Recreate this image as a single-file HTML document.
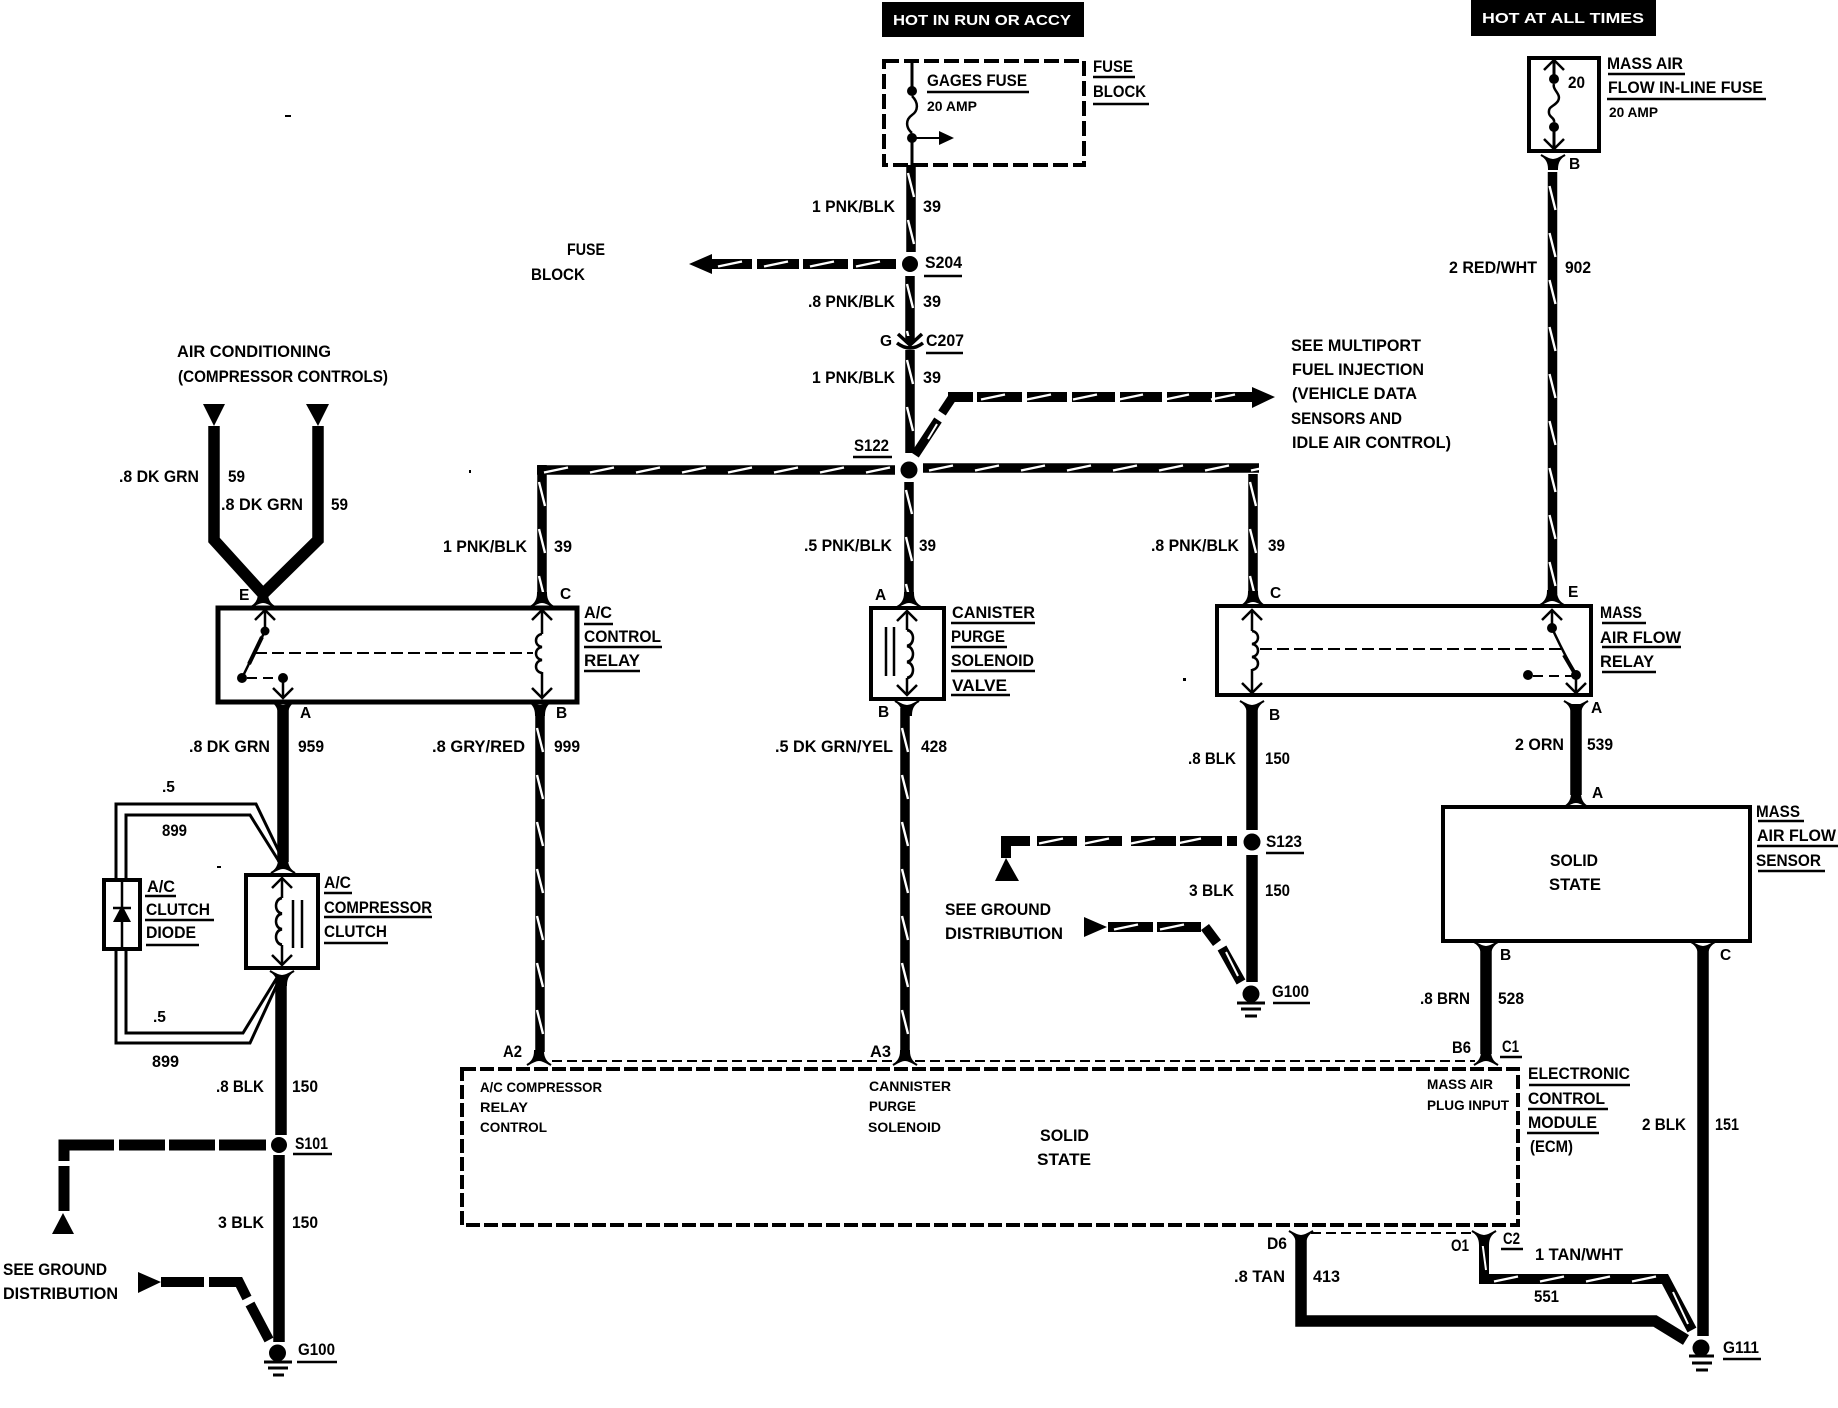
<!DOCTYPE html>
<html><head><meta charset="utf-8"><title>Wiring diagram</title>
<style>
html,body{margin:0;padding:0;background:#fff}
svg{display:block}
text{font:bold 17px "Liberation Sans",sans-serif;fill:#000}
text.s{font-size:14px}
text.l{font-size:15.5px}
.w text{fill:#fff;font-size:15px}
.k{fill:none;stroke:#000}
</style></head><body>
<svg width="1838" height="1408" viewBox="0 0 1838 1408" xmlns="http://www.w3.org/2000/svg">
<defs>
<pattern id="v" patternUnits="userSpaceOnUse" x="-7" y="0" width="14" height="47"><path d="M-3,8L3,32" transform="translate(7,0)" stroke="#fff" stroke-width="2.4" fill="none"/></pattern>
<pattern id="h" patternUnits="userSpaceOnUse" x="0" y="-7" width="46" height="14"><path d="M6,9.5L30,4.5" stroke="#fff" stroke-width="2.4" fill="none"/></pattern>
<path id="fd" d="M-12,7Q-4,3 -4,-7H4Q4,3 12,7Q4,2 0,2Q-4,2 -12,7Z" fill="#000" stroke="#000" stroke-width="2"/>
<path id="fu" d="M-12,-7Q-4,-3 -4,7H4Q4,-3 12,-7Q4,-2 0,-2Q-4,-2 -12,-7Z" fill="#000" stroke="#000" stroke-width="2"/>
<path id="au" d="M-10,10L0,0L10,10" fill="none" stroke="#000" stroke-width="2.5"/>
<path id="ad" d="M-10,-10L0,0L10,-10" fill="none" stroke="#000" stroke-width="2.5"/>
<path id="cr" d="M0,0c8,1 8,12 0,13c8,1 8,12 0,13c8,1 8,12 0,13" fill="none" stroke="#000" stroke-width="2.5"/>
<path id="cl" d="M0,0c-8,1 -8,12 0,13c-8,1 -8,12 0,13c-8,1 -8,12 0,13" fill="none" stroke="#000" stroke-width="2.5"/>
</defs>
<rect width="1838" height="1408" fill="#fff"/>

<!-- header boxes -->
<g class="w">
<rect x="882" y="2" width="202" height="35" fill="#000"/>
<rect x="1471" y="0" width="185" height="36" fill="#000"/>
<text x="893" y="25" textLength="178" lengthAdjust="spacingAndGlyphs">HOT IN RUN OR ACCY</text>
<text x="1482" y="23" textLength="162" lengthAdjust="spacingAndGlyphs">HOT AT ALL TIMES</text>
</g>

<!-- boxes -->
<g class="k" stroke-width="4">
<rect x="884" y="61" width="200" height="104" stroke-dasharray="15 5"/>
<rect x="1529" y="58" width="70" height="93"/>
<rect x="218" y="608" width="359" height="94" stroke-width="5"/>
<rect x="871" y="608" width="73" height="91"/>
<rect x="1217" y="606" width="374" height="89"/>
<rect x="1443" y="807" width="307" height="134"/>
<rect x="246" y="875" width="72" height="93"/>
<rect x="104" y="880" width="36" height="69"/>
<rect x="462" y="1069" width="1056" height="156" stroke-dasharray="14 4"/>
</g>
<path class="k" stroke-width="2" stroke-dasharray="10 5" d="M552,1061H895M915,1061H1475M1311,1233H1474"/>

<!-- solid thick wires -->
<g class="k" stroke-width="9.5">
<path d="M911,165V252M910,276V343M910,350V453M909,482V596"/>
<path d="M1552.5,172V594M1253,474V594M542,465V596"/>
<path d="M537,470H895M923,468H1259"/>
<path d="M540,708V1052M905,708V1052"/>
<path d="M915,455L938,420M942,413L952,398" stroke-width="9"/>
<path d="M948,397H973M977,397H1022M1027,397H1067M1072,397H1115M1120,397H1162M1167,397H1212M1215,397H1253" stroke-width="10"/>
<path d="M896,264H853M848,264H803M799,264H757M752,264H712" stroke-width="10"/>
<path d="M1237,841H1227M1222,841H1180M1176,841H1131M1122,841H1085M1077,841H1037M1030,841H1006V858" stroke-width="10"/>
<path d="M1108,927H1153M1157,927H1201M1205,927L1217,943M1222,948L1241,982" stroke-width="10"/>
<path d="M1484,1236V1279H1665L1692,1330" stroke-width="10"/>
</g>
<g class="k" stroke-width="11.5">
<path d="M214,426V540L263,594M318,426V540L263,594"/>
<path d="M283,708V862M281,978V1135M279,1155V1342"/>
<path d="M1252,706V830M1252,855V982M1576,704V795"/>
<path d="M1486,950V1054M1703,950V1336"/>
<path d="M1301,1236V1321H1655L1686,1340"/>
<path d="M266,1145H219M215,1145H169M165,1145H119M114,1145H64V1161M64,1166V1211" stroke-width="11"/>
<path d="M161,1282H204M209,1282H239L247,1298M250,1304L269,1340" stroke-width="10"/>
</g>

<!-- stripes -->
<g>
<rect transform="translate(911,165)" x="-5" width="10" height="87" fill="url(#v)"/>
<rect transform="translate(910,276)" x="-5" width="10" height="60" fill="url(#v)"/>
<rect transform="translate(910,352)" x="-5" width="10" height="100" fill="url(#v)"/>
<rect transform="translate(909,482)" x="-5" width="10" height="112" fill="url(#v)"/>
<rect transform="translate(1552.5,178)" x="-5" width="10" height="416" fill="url(#v)"/>
<rect transform="translate(1253,474)" x="-5" width="10" height="120" fill="url(#v)"/>
<rect transform="translate(542,474)" x="-5" width="10" height="120" fill="url(#v)"/>
<rect transform="translate(540,720)" x="-5" width="10" height="330" fill="url(#v)"/>
<rect transform="translate(905,720)" x="-5" width="10" height="330" fill="url(#v)"/>
<rect transform="translate(538,470)" y="-5" width="357" height="10" fill="url(#h)"/>
<rect transform="translate(923,468)" y="-5" width="336" height="10" fill="url(#h)"/>
<rect transform="translate(975,397)" y="-5" width="278" height="10" fill="url(#h)"/>
<rect transform="translate(712,264)" y="-5" width="184" height="10" fill="url(#h)"/>
<rect transform="translate(1033,841)" y="-5" width="190" height="10" fill="url(#h)"/>
<rect transform="translate(1108,927)" y="-5" width="92" height="10" fill="url(#h)"/>
<rect transform="translate(1488,1279)" y="-5" width="172" height="10" fill="url(#h)"/>
<path d="M928,439L937,424M1226,952L1238,976M1673,1292L1688,1324M1482,1240L1486,1270" stroke="#fff" stroke-width="2" fill="none"/>
</g>

<!-- arrowheads -->
<path d="M689,264L712,254V274Z M1275,397L1252,387V408Z M203,404H225L214,426Z M306,404H329L318,426Z M1006,858L995,881H1019Z M63,1213L52,1234H74Z M138,1272L161,1282L138,1293Z M1084,917L1107,927L1084,937Z M954,138L939,131V145Z"/>

<!-- splice dots and grounds -->
<circle cx="910" cy="264" r="8"/><circle cx="909" cy="470" r="8.5"/><circle cx="1252" cy="842" r="8.5"/><circle cx="279" cy="1145" r="8"/>
<circle cx="277.5" cy="1353" r="8.5"/><circle cx="1251" cy="994" r="8.5"/><circle cx="1701" cy="1348" r="8.5"/>
<path class="k" stroke-width="3" d="M264,1362H292M268,1368H288M273,1375H284M1237,1003H1265M1241,1009H1261M1245,1016H1257M1689,1356H1714M1692,1363H1712M1696,1370H1708"/>

<!-- connectors -->
<path class="k" stroke-width="3.5" d="M898,334L910,345L922,334M897,343Q910,353 923,343"/>
<use href="#fd" x="263" y="600"/><use href="#fd" x="542" y="600"/><use href="#fd" x="909" y="600"/><use href="#fd" x="1253" y="599"/><use href="#fd" x="1552" y="598"/>
<use href="#fu" x="1553" y="162"/><use href="#fu" x="283" y="708"/><use href="#fu" x="540" y="708"/><use href="#fu" x="907" y="708"/><use href="#fu" x="1252" y="708"/><use href="#fu" x="1576" y="708"/>
<use href="#fd" x="1576" y="800"/><use href="#fd" x="283" y="866"/><use href="#fu" x="282" y="978"/>
<use href="#fu" x="1486" y="949"/><use href="#fu" x="1703" y="949"/>
<use href="#fd" x="539" y="1058"/><use href="#fd" x="905" y="1058"/><use href="#fd" x="1486" y="1058"/>
<use href="#fu" x="1301" y="1238"/><use href="#fu" x="1484" y="1238"/>

<!-- internals -->
<g>
<path class="k" stroke-width="3" d="M912,61V91M912,138V165M1554,60V79M1554,127V148"/>
<path class="k" stroke-width="2" d="M912,138H942"/>
<path class="k" stroke-width="2.5" d="M912,96c7,7 6,15 0,19c-7,5 -6,13 0,18M1554,84c-2,6 8,10 4,17c-4,6 -10,5 -9,12c0,4 6,5 5,9"/>
<circle cx="912" cy="91" r="5"/><circle cx="912" cy="138" r="5"/><circle cx="1554" cy="79" r="5"/><circle cx="1554" cy="127" r="5"/>
<use href="#au" x="1554" y="60"/><use href="#ad" x="1554" y="149"/>

<!-- A/C relay -->
<use href="#au" x="265" y="610"/><use href="#au" x="542" y="610"/><use href="#ad" x="283" y="698"/><use href="#ad" x="542" y="698"/>
<path class="k" stroke-width="2.5" d="M265,610V631L242,678M283,678V698M542,610V634M542,672V698"/>
<path class="k" stroke-width="4" d="M262,637L249,664"/>
<path class="k" stroke-width="2" stroke-dasharray="12 5" d="M255,653H533"/>
<path class="k" stroke-width="2" stroke-dasharray="10 6" d="M247,678H283"/>
<circle cx="265" cy="631" r="4.5"/><circle cx="242" cy="678" r="5"/><circle cx="283" cy="678" r="5"/>
<use href="#cl" x="542" y="634"/>

<!-- canister -->
<use href="#au" x="907" y="611"/><use href="#ad" x="907" y="695"/>
<path class="k" stroke-width="2.5" d="M907,611V630M907,678V695M886,627V676M894,627V676"/>
<g transform="translate(907,630) scale(1,1.23)"><use href="#cr"/></g>

<!-- mass air flow relay -->
<use href="#au" x="1252" y="610"/><use href="#ad" x="1252" y="693"/><use href="#au" x="1552" y="610"/><use href="#ad" x="1576" y="693"/>
<path class="k" stroke-width="2.5" d="M1252,610V631M1252,669V693M1552,610V628Q1562,650 1576,675V693"/>
<path class="k" stroke-width="4" d="M1564,655L1574,672"/>
<path class="k" stroke-width="2" stroke-dasharray="12 5" d="M1260,649H1565"/>
<path class="k" stroke-width="2" stroke-dasharray="10 6" d="M1533,676H1576"/>
<circle cx="1552" cy="628" r="5"/><circle cx="1528" cy="675" r="5"/><circle cx="1576" cy="675" r="5"/>
<use href="#cr" x="1252" y="631"/>

<!-- compressor clutch -->
<use href="#au" x="282" y="878"/><use href="#ad" x="282" y="965"/>
<path class="k" stroke-width="2.5" d="M282,878V898M282,945V965M293,900V948M302,900V948"/>
<g transform="translate(282,898) scale(1,1.2)"><use href="#cl"/></g>

<!-- diode and double wires -->
<path class="k" stroke-width="3" d="M116,878V804H256L283,860M126,878V815H250L280,863M116,951V1043H250L280,978M126,951V1033H243L278,976"/>
<path class="k" stroke-width="2.5" d="M122,880V949M113,908H131"/>
<path d="M122,905L131,922H113Z"/>
</g>

<!-- underlines -->
<path class="k" stroke-width="2.5" d="M927,92H1029M1093,77H1135M1093,104H1149M924,276H962M926,353H963M853,457H892M1608,74H1685M1607,99H1766M584,624H613M584,647H662M584,671H640M951,623H1035M951,647H1007M951,671H1035M951,695H1010M1602,623H1646M1602,647H1681M1602,672H1656M1266,853H1304M1273,1003H1310M1758,821H1804M1757,846H1838M1758,871H1825M145,896H176M145,920H214M146,945H199M324,893H352M324,917H432M324,943H388M293,1154H332M297,1362H337M1500,1057H1522M1501,1249H1523M1529,1085H1630M1528,1109H1608M1527,1133H1599M1723,1359H1761"/>

<!-- labels -->
<g>
<text x="927" y="86" textLength="100" lengthAdjust="spacingAndGlyphs">GAGES FUSE</text>
<text class="s" x="927" y="111" textLength="50" lengthAdjust="spacingAndGlyphs">20 AMP</text>
<text x="1093" y="72" textLength="40" lengthAdjust="spacingAndGlyphs">FUSE</text>
<text x="1093" y="97" textLength="53" lengthAdjust="spacingAndGlyphs">BLOCK</text>
<text x="812" y="212" textLength="83" lengthAdjust="spacingAndGlyphs">1 PNK/BLK</text>
<text x="923" y="212" textLength="18" lengthAdjust="spacingAndGlyphs">39</text>
<text x="925" y="268" textLength="37" lengthAdjust="spacingAndGlyphs">S204</text>
<text x="567" y="255" textLength="38" lengthAdjust="spacingAndGlyphs">FUSE</text>
<text x="531" y="280" textLength="54" lengthAdjust="spacingAndGlyphs">BLOCK</text>
<text x="808" y="307" textLength="87" lengthAdjust="spacingAndGlyphs">.8 PNK/BLK</text>
<text x="923" y="307" textLength="18" lengthAdjust="spacingAndGlyphs">39</text>
<text class="l" x="880" y="346">G</text>
<text x="926" y="346" textLength="38" lengthAdjust="spacingAndGlyphs">C207</text>
<text x="812" y="383" textLength="83" lengthAdjust="spacingAndGlyphs">1 PNK/BLK</text>
<text x="923" y="383" textLength="18" lengthAdjust="spacingAndGlyphs">39</text>
<text x="854" y="451" textLength="35" lengthAdjust="spacingAndGlyphs">S122</text>

<text x="1291" y="351" textLength="130" lengthAdjust="spacingAndGlyphs">SEE MULTIPORT</text>
<text x="1292" y="375" textLength="132" lengthAdjust="spacingAndGlyphs">FUEL INJECTION</text>
<text x="1292" y="399" textLength="125" lengthAdjust="spacingAndGlyphs">(VEHICLE DATA</text>
<text x="1291" y="424" textLength="111" lengthAdjust="spacingAndGlyphs">SENSORS AND</text>
<text x="1292" y="448" textLength="159" lengthAdjust="spacingAndGlyphs">IDLE AIR CONTROL)</text>

<text x="1568" y="88" textLength="17" lengthAdjust="spacingAndGlyphs">20</text>
<text x="1607" y="69" textLength="76" lengthAdjust="spacingAndGlyphs">MASS AIR</text>
<text x="1608" y="93" textLength="155" lengthAdjust="spacingAndGlyphs">FLOW IN-LINE FUSE</text>
<text class="s" x="1609" y="117" textLength="49" lengthAdjust="spacingAndGlyphs">20 AMP</text>
<text class="l" x="1569" y="169">B</text>
<text x="1449" y="273" textLength="88" lengthAdjust="spacingAndGlyphs">2 RED/WHT</text>
<text x="1565" y="273" textLength="26" lengthAdjust="spacingAndGlyphs">902</text>

<text x="177" y="357" textLength="154" lengthAdjust="spacingAndGlyphs">AIR CONDITIONING</text>
<text x="178" y="382" textLength="210" lengthAdjust="spacingAndGlyphs">(COMPRESSOR CONTROLS)</text>
<text x="119" y="482" textLength="80" lengthAdjust="spacingAndGlyphs">.8 DK GRN</text>
<text x="228" y="482" textLength="17" lengthAdjust="spacingAndGlyphs">59</text>
<text x="221" y="510" textLength="82" lengthAdjust="spacingAndGlyphs">.8 DK GRN</text>
<text x="331" y="510" textLength="17" lengthAdjust="spacingAndGlyphs">59</text>
<text x="443" y="552" textLength="84" lengthAdjust="spacingAndGlyphs">1 PNK/BLK</text>
<text x="554" y="552" textLength="18" lengthAdjust="spacingAndGlyphs">39</text>
<text x="804" y="551" textLength="88" lengthAdjust="spacingAndGlyphs">.5 PNK/BLK</text>
<text x="919" y="551" textLength="17" lengthAdjust="spacingAndGlyphs">39</text>
<text x="1151" y="551" textLength="88" lengthAdjust="spacingAndGlyphs">.8 PNK/BLK</text>
<text x="1268" y="551" textLength="17" lengthAdjust="spacingAndGlyphs">39</text>

<text class="l" x="239" y="600">E</text><text class="l" x="560" y="599">C</text><text class="l" x="875" y="600">A</text><text class="l" x="1270" y="598">C</text><text class="l" x="1568" y="597">E</text>
<text class="l" x="300" y="718">A</text><text class="l" x="556" y="718">B</text><text class="l" x="878" y="717">B</text><text class="l" x="1269" y="720">B</text><text class="l" x="1591" y="713">A</text><text class="l" x="1592" y="798">A</text>
<text class="l" x="1500" y="960">B</text><text class="l" x="1720" y="960">C</text>

<text x="584" y="618" textLength="28" lengthAdjust="spacingAndGlyphs">A/C</text>
<text x="584" y="642" textLength="77" lengthAdjust="spacingAndGlyphs">CONTROL</text>
<text x="584" y="666" textLength="56" lengthAdjust="spacingAndGlyphs">RELAY</text>
<text x="952" y="618" textLength="83" lengthAdjust="spacingAndGlyphs">CANISTER</text>
<text x="951" y="642" textLength="54" lengthAdjust="spacingAndGlyphs">PURGE</text>
<text x="951" y="666" textLength="83" lengthAdjust="spacingAndGlyphs">SOLENOID</text>
<text x="952" y="691" textLength="55" lengthAdjust="spacingAndGlyphs">VALVE</text>
<text x="1600" y="618" textLength="42" lengthAdjust="spacingAndGlyphs">MASS</text>
<text x="1600" y="643" textLength="81" lengthAdjust="spacingAndGlyphs">AIR FLOW</text>
<text x="1600" y="667" textLength="54" lengthAdjust="spacingAndGlyphs">RELAY</text>

<text x="189" y="752" textLength="81" lengthAdjust="spacingAndGlyphs">.8 DK GRN</text>
<text x="298" y="752" textLength="26" lengthAdjust="spacingAndGlyphs">959</text>
<text x="432" y="752" textLength="93" lengthAdjust="spacingAndGlyphs">.8 GRY/RED</text>
<text x="554" y="752" textLength="26" lengthAdjust="spacingAndGlyphs">999</text>
<text x="775" y="752" textLength="118" lengthAdjust="spacingAndGlyphs">.5 DK GRN/YEL</text>
<text x="921" y="752" textLength="26" lengthAdjust="spacingAndGlyphs">428</text>
<text x="1188" y="764" textLength="48" lengthAdjust="spacingAndGlyphs">.8 BLK</text>
<text x="1265" y="764" textLength="25" lengthAdjust="spacingAndGlyphs">150</text>
<text x="1515" y="750" textLength="49" lengthAdjust="spacingAndGlyphs">2 ORN</text>
<text x="1587" y="750" textLength="26" lengthAdjust="spacingAndGlyphs">539</text>
<text x="1266" y="847" textLength="36" lengthAdjust="spacingAndGlyphs">S123</text>
<text x="1189" y="896" textLength="45" lengthAdjust="spacingAndGlyphs">3 BLK</text>
<text x="1265" y="896" textLength="25" lengthAdjust="spacingAndGlyphs">150</text>
<text x="945" y="915" textLength="106" lengthAdjust="spacingAndGlyphs">SEE GROUND</text>
<text x="945" y="939" textLength="118" lengthAdjust="spacingAndGlyphs">DISTRIBUTION</text>
<text x="1272" y="997" textLength="37" lengthAdjust="spacingAndGlyphs">G100</text>
<text x="1550" y="866" textLength="48" lengthAdjust="spacingAndGlyphs">SOLID</text>
<text x="1549" y="890" textLength="52" lengthAdjust="spacingAndGlyphs">STATE</text>
<text x="1756" y="817" textLength="44" lengthAdjust="spacingAndGlyphs">MASS</text>
<text x="1757" y="841" textLength="79" lengthAdjust="spacingAndGlyphs">AIR FLOW</text>
<text x="1756" y="866" textLength="65" lengthAdjust="spacingAndGlyphs">SENSOR</text>

<text class="l" x="162" y="792">.5</text>
<text x="162" y="836" textLength="25" lengthAdjust="spacingAndGlyphs">899</text>
<text class="l" x="153" y="1022">.5</text>
<text x="152" y="1067" textLength="27" lengthAdjust="spacingAndGlyphs">899</text>
<text x="147" y="892" textLength="28" lengthAdjust="spacingAndGlyphs">A/C</text>
<text x="146" y="915" textLength="64" lengthAdjust="spacingAndGlyphs">CLUTCH</text>
<text x="146" y="938" textLength="50" lengthAdjust="spacingAndGlyphs">DIODE</text>
<text x="324" y="888" textLength="27" lengthAdjust="spacingAndGlyphs">A/C</text>
<text x="324" y="913" textLength="108" lengthAdjust="spacingAndGlyphs">COMPRESSOR</text>
<text x="324" y="937" textLength="63" lengthAdjust="spacingAndGlyphs">CLUTCH</text>

<text x="216" y="1092" textLength="48" lengthAdjust="spacingAndGlyphs">.8 BLK</text>
<text x="292" y="1092" textLength="26" lengthAdjust="spacingAndGlyphs">150</text>
<text x="295" y="1149" textLength="33" lengthAdjust="spacingAndGlyphs">S101</text>
<text x="218" y="1228" textLength="46" lengthAdjust="spacingAndGlyphs">3 BLK</text>
<text x="292" y="1228" textLength="26" lengthAdjust="spacingAndGlyphs">150</text>
<text x="3" y="1275" textLength="104" lengthAdjust="spacingAndGlyphs">SEE GROUND</text>
<text x="3" y="1299" textLength="115" lengthAdjust="spacingAndGlyphs">DISTRIBUTION</text>
<text x="298" y="1355" textLength="37" lengthAdjust="spacingAndGlyphs">G100</text>

<text x="503" y="1057" textLength="19" lengthAdjust="spacingAndGlyphs">A2</text>
<text x="870" y="1057" textLength="21" lengthAdjust="spacingAndGlyphs">A3</text>
<text x="1420" y="1004" textLength="50" lengthAdjust="spacingAndGlyphs">.8 BRN</text>
<text x="1498" y="1004" textLength="26" lengthAdjust="spacingAndGlyphs">528</text>
<text x="1452" y="1053" textLength="19" lengthAdjust="spacingAndGlyphs">B6</text>
<text x="1502" y="1052" textLength="17" lengthAdjust="spacingAndGlyphs">C1</text>

<text class="s" x="480" y="1092" textLength="122" lengthAdjust="spacingAndGlyphs">A/C COMPRESSOR</text>
<text class="s" x="480" y="1112" textLength="48" lengthAdjust="spacingAndGlyphs">RELAY</text>
<text class="s" x="480" y="1132" textLength="67" lengthAdjust="spacingAndGlyphs">CONTROL</text>
<text class="s" x="869" y="1091" textLength="82" lengthAdjust="spacingAndGlyphs">CANNISTER</text>
<text class="s" x="869" y="1111" textLength="47" lengthAdjust="spacingAndGlyphs">PURGE</text>
<text class="s" x="868" y="1132" textLength="73" lengthAdjust="spacingAndGlyphs">SOLENOID</text>
<text x="1040" y="1141" textLength="49" lengthAdjust="spacingAndGlyphs">SOLID</text>
<text x="1037" y="1165" textLength="54" lengthAdjust="spacingAndGlyphs">STATE</text>
<text class="s" x="1427" y="1089" textLength="66" lengthAdjust="spacingAndGlyphs">MASS AIR</text>
<text class="s" x="1427" y="1110" textLength="82" lengthAdjust="spacingAndGlyphs">PLUG INPUT</text>
<text x="1528" y="1079" textLength="102" lengthAdjust="spacingAndGlyphs">ELECTRONIC</text>
<text x="1528" y="1104" textLength="77" lengthAdjust="spacingAndGlyphs">CONTROL</text>
<text x="1528" y="1128" textLength="69" lengthAdjust="spacingAndGlyphs">MODULE</text>
<text x="1530" y="1152" textLength="43" lengthAdjust="spacingAndGlyphs">(ECM)</text>
<text x="1642" y="1130" textLength="44" lengthAdjust="spacingAndGlyphs">2 BLK</text>
<text x="1715" y="1130" textLength="24" lengthAdjust="spacingAndGlyphs">151</text>

<text x="1267" y="1249" textLength="20" lengthAdjust="spacingAndGlyphs">D6</text>
<text x="1234" y="1282" textLength="51" lengthAdjust="spacingAndGlyphs">.8 TAN</text>
<text x="1313" y="1282" textLength="27" lengthAdjust="spacingAndGlyphs">413</text>
<text x="1451" y="1251" textLength="18" lengthAdjust="spacingAndGlyphs">O1</text>
<text x="1503" y="1244" textLength="17" lengthAdjust="spacingAndGlyphs">C2</text>
<text x="1535" y="1260" textLength="88" lengthAdjust="spacingAndGlyphs">1 TAN/WHT</text>
<text x="1534" y="1302" textLength="25" lengthAdjust="spacingAndGlyphs">551</text>
<text x="1723" y="1353" textLength="36" lengthAdjust="spacingAndGlyphs">G111</text>
</g>
<!-- specks -->
<path d="M285,115h6v2h-6zM469,470h2v3h-2zM1183,678h3v3h-3zM217,866h4v2h-4z"/>
</svg>
</body></html>
